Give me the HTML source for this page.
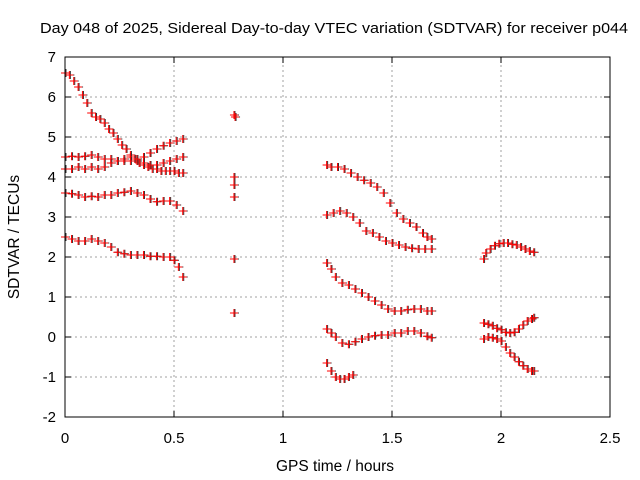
<!DOCTYPE html>
<html><head><meta charset="utf-8"><style>
body{margin:0;background:#fff}
svg{display:block;font-family:"Liberation Sans",sans-serif}
</style></head><body>
<svg id="c" width="640" height="480">
<text x="40" y="33" textLength="588" lengthAdjust="spacingAndGlyphs" font-size="15">Day 048 of 2025, Sidereal Day-to-day VTEC variation (SDTVAR) for receiver p044</text>
<text x="335" y="471" text-anchor="middle" font-size="15.5">GPS time / hours</text>
<text transform="translate(19,237) rotate(-90)" text-anchor="middle" font-size="15.5">SDTVAR / TECUs</text>
<g id="grid"></g><g id="ticks"></g><g id="marks"></g>
<rect x="65" y="57" width="545" height="360" fill="none" stroke="#000"/>
</svg>
<script>
const xTicks=[0,0.5,1,1.5,2,2.5];
const xTickLabels=["0","0.5","1","1.5","2","2.5"];
const yTicks=[-2,-1,0,1,2,3,4,5,6,7];
const yTickLabels=["-2","-1","0","1","2","3","4","5","6","7"];
const seriesA=[[0,6.6],[0.02,6.55],[0.04,6.4],[0.06,6.25],[0.08,6.05],[0.10,5.85],[0.12,5.6],[0.14,5.5],[0.16,5.45],[0.18,5.35],[0.20,5.2],[0.22,5.1],[0.24,4.95],[0.26,4.8],[0.28,4.7],[0.30,4.55],[0.32,4.45],[0.34,4.35],[0.36,4.3],[0.38,4.25],[0.40,4.2],[0.42,4.2],[0.44,4.15],[0.46,4.15],[0.48,4.15],[0.50,4.15],[0.52,4.1],[0.54,4.1]];
const seriesB=[[0,4.5],[0.03,4.52],[0.06,4.5],[0.09,4.52],[0.12,4.55],[0.15,4.5],[0.18,4.45],[0.21,4.45],[0.24,4.4],[0.27,4.45],[0.30,4.5],[0.33,4.4],[0.36,4.35],[0.39,4.3],[0.42,4.3],[0.45,4.35],[0.48,4.4],[0.51,4.45],[0.54,4.5]];
const seriesC=[[0,4.2],[0.03,4.2],[0.06,4.25],[0.09,4.2],[0.12,4.25],[0.15,4.2],[0.18,4.25],[0.21,4.35],[0.24,4.4],[0.27,4.4],[0.30,4.4],[0.33,4.45],[0.36,4.5],[0.39,4.6],[0.42,4.7],[0.45,4.78],[0.48,4.85],[0.51,4.9],[0.54,4.95]];
const seriesD=[[0,3.6],[0.03,3.58],[0.06,3.55],[0.09,3.5],[0.12,3.52],[0.15,3.5],[0.18,3.55],[0.21,3.55],[0.24,3.6],[0.27,3.62],[0.30,3.65],[0.33,3.6],[0.36,3.55],[0.39,3.45],[0.42,3.38],[0.45,3.4],[0.48,3.4],[0.51,3.3],[0.54,3.15]];
const seriesE=[[0,2.5],[0.03,2.45],[0.06,2.4],[0.09,2.4],[0.12,2.45],[0.15,2.4],[0.18,2.35],[0.21,2.25],[0.24,2.12],[0.27,2.08],[0.30,2.05],[0.33,2.05],[0.36,2.05],[0.39,2.02],[0.42,2.02],[0.45,2.0],[0.48,2.0],[0.50,1.92],[0.52,1.75],[0.54,1.5]];
const seriesIso=[[0.775,5.55],[0.78,5.5],[0.775,4.0],[0.775,3.8],[0.775,3.5],[0.775,1.95],[0.775,0.6]];
const seriesF=[[1.2,4.3],[1.22,4.25],[1.25,4.25],[1.28,4.2],[1.31,4.1],[1.34,4.0],[1.37,3.92],[1.40,3.85],[1.43,3.75],[1.46,3.6],[1.49,3.35],[1.52,3.1],[1.55,2.95],[1.58,2.85],[1.61,2.75],[1.64,2.6],[1.66,2.5],[1.68,2.45]];
const seriesG=[[1.2,3.05],[1.23,3.1],[1.26,3.15],[1.29,3.1],[1.32,3.0],[1.35,2.85],[1.38,2.65],[1.41,2.6],[1.44,2.5],[1.47,2.4],[1.50,2.35],[1.53,2.3],[1.56,2.25],[1.59,2.22],[1.62,2.2],[1.65,2.2],[1.68,2.2]];
const seriesH=[[1.2,1.85],[1.22,1.7],[1.24,1.5],[1.27,1.35],[1.30,1.3],[1.33,1.2],[1.36,1.1],[1.39,1.0],[1.42,0.9],[1.45,0.8],[1.48,0.7],[1.51,0.65],[1.54,0.65],[1.57,0.68],[1.60,0.7],[1.63,0.7],[1.66,0.65],[1.68,0.65]];
const seriesI=[[1.2,0.2],[1.22,0.1],[1.24,0.0],[1.27,-0.15],[1.30,-0.18],[1.33,-0.12],[1.36,-0.05],[1.39,0.0],[1.42,0.03],[1.45,0.05],[1.48,0.05],[1.51,0.1],[1.54,0.1],[1.57,0.15],[1.60,0.15],[1.63,0.1],[1.66,0.02],[1.68,-0.02]];
const seriesJ=[[1.2,-0.65],[1.22,-0.85],[1.24,-1.0],[1.26,-1.05],[1.28,-1.05],[1.30,-1.0],[1.32,-0.95]];
const seriesK=[[1.92,1.95],[1.93,2.1],[1.95,2.2],[1.97,2.28],[1.99,2.33],[2.01,2.35],[2.03,2.35],[2.05,2.32],[2.07,2.3],[2.09,2.25],[2.11,2.2],[2.13,2.15],[2.15,2.12]];
const seriesL=[[1.92,0.35],[1.94,0.32],[1.96,0.28],[1.98,0.22],[2.00,0.18],[2.02,0.12],[2.04,0.1],[2.06,0.12],[2.08,0.2],[2.10,0.3],[2.12,0.4],[2.14,0.45],[2.15,0.48]];
const seriesM=[[1.92,-0.05],[1.94,0.0],[1.96,-0.02],[1.98,-0.05],[2.00,-0.1],[2.02,-0.25],[2.04,-0.4],[2.06,-0.5],[2.08,-0.62],[2.10,-0.72],[2.12,-0.8],[2.14,-0.85],[2.15,-0.85]];
const allSeries=[seriesA,seriesB,seriesC,seriesD,seriesE,seriesIso,seriesF,seriesG,seriesH,seriesI,seriesJ,seriesK,seriesL,seriesM];
const NS="http://www.w3.org/2000/svg";
const X0=65,X1=610,Y0=417,Y1=57;
function sx(v){return X0+(v-0)/(2.5-0)*(X1-X0);}
function sy(v){return Y0-(v-(-2))/(7-(-2))*(Y0-Y1);}
function mk(tag,attrs,parent){const e=document.createElementNS(NS,tag);for(const k in attrs)e.setAttribute(k,attrs[k]);parent.appendChild(e);return e;}
const grid=document.getElementById('grid'),ticks=document.getElementById('ticks'),marks=document.getElementById('marks');
xTicks.forEach((t,i)=>{const x=sx(t);
 if(i>0&&i<xTicks.length-1){const g=mk('line',{x1:x,x2:x,y1:Y0,y2:Y1,stroke:'#a0a0a0','stroke-dasharray':'2,3'},grid);
 
 }
 mk('line',{x1:x,x2:x,y1:Y0,y2:Y0-6,stroke:'#000'},ticks);mk('line',{x1:x,x2:x,y1:Y1,y2:Y1+6,stroke:'#000'},ticks);
 const tx=mk('text',{x:x,y:Y0+26,'text-anchor':'middle','font-size':'15'},ticks);tx.textContent=xTickLabels[i];
 
 });
yTicks.forEach((t,i)=>{const y=sy(t);
 if(i>0&&i<yTicks.length-1){const g=mk('line',{x1:X0,x2:X1,y1:y,y2:y,stroke:'#a0a0a0','stroke-dasharray':'2,3'},grid);
 
 }
 mk('line',{x1:X0,x2:X0+6,y1:y,y2:y,stroke:'#000'},ticks);mk('line',{x1:X1,x2:X1-6,y1:y,y2:y,stroke:'#000'},ticks);
 const tx=mk('text',{x:X0-9,y:y+5,'text-anchor':'end','font-size':'15'},ticks);tx.textContent=yTickLabels[i];
 
 });
function plus(x,y,col,parent){return mk('path',{d:`M${x-4},${y}h8M${x},${y-4}v8`,stroke:col,'stroke-width':1,fill:'none'},parent);}
allSeries.forEach((s,si)=>{
 const g=mk('g',{},marks);
 
 
 s.forEach(p=>{plus(sx(p[0])+1,sy(p[1]),'#333',g);});
 s.forEach(p=>{const m=plus(sx(p[0]),sy(p[1]),'#f00',g);
 
 });
});
</script>
</body></html>
